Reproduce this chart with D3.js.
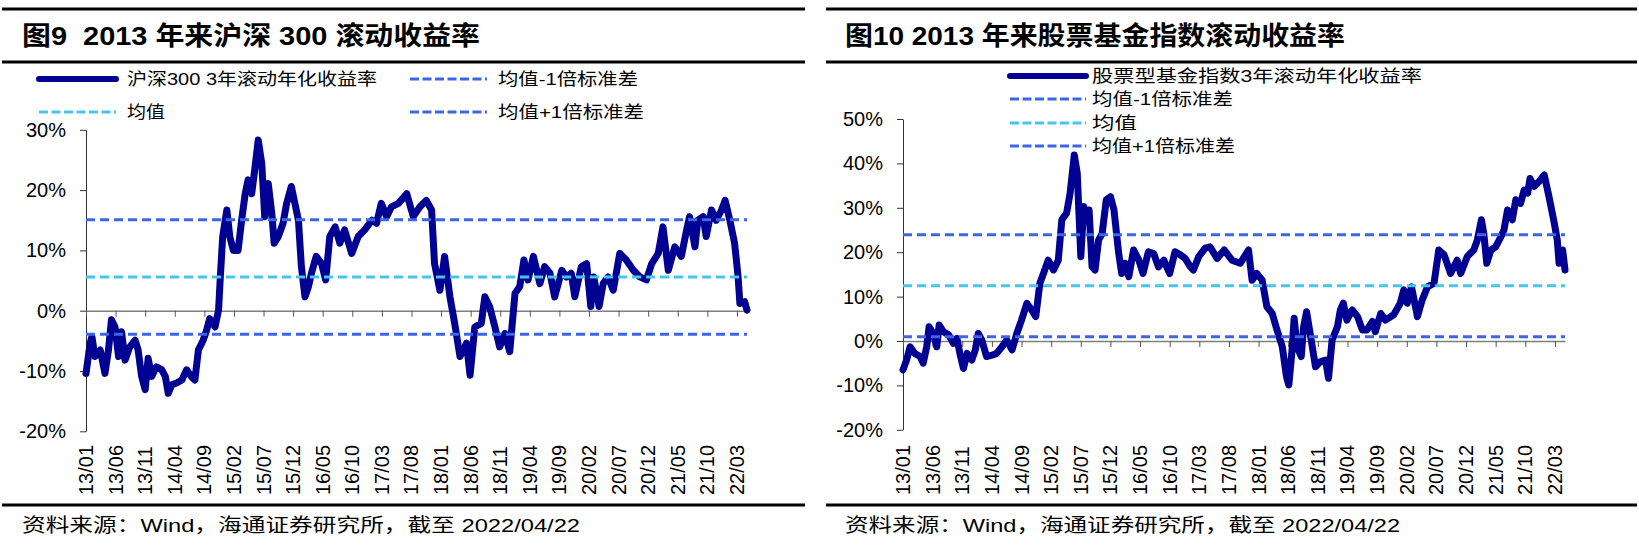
<!DOCTYPE html>
<html>
<head>
<meta charset="utf-8">
<script src="https://cdn.jsdelivr.net/npm/d3@7"></script>
<style>
html, body { margin: 0; padding: 0; background: #fff; }
svg { display: block; }
text { font-family: "Liberation Sans", "Noto Sans CJK SC", sans-serif; fill: #000; }
</style>
</head>
<body>
<svg id="chart" width="1639" height="555"></svg>
<script>
// x tick labels (yy/mm), every 5 months
const xTickLabels = ['13/01', '13/06', '13/11', '14/04', '14/09', '15/02', '15/07', '15/12',
    '16/05', '16/10', '17/03', '17/08', '18/01', '18/06', '18/11', '19/04', '19/09',
    '20/02', '20/07', '20/12', '21/05', '21/10', '22/03'];
// last observation 2022/04/22, in months since 2013/01
const lastMonth = 111.7;

// 沪深300 3年滚动年化收益率 (%), x = months since 2013/01
const csiMonth = [0, 0.7, 1.0, 1.5, 2.4, 3.2, 3.8, 4.3, 4.9, 5.5, 6.0, 6.6, 7.4, 8.3, 8.8, 9.4, 10.0,
    10.5, 11.1, 11.9, 12.8, 13.4, 13.9, 14.5, 15.3, 16.2, 17.0, 17.8, 18.4, 19.0, 19.8, 20.4, 20.9,
    21.8, 22.4, 22.7, 23.1, 23.8, 24.3, 24.9, 25.7, 26.3, 26.9, 27.4, 28.0, 28.5, 29.1, 29.7, 30.2,
    30.8, 31.4, 31.8, 32.5, 33.3, 33.9, 34.7, 35.3, 35.9, 36.4, 37.0, 37.6, 38.1, 38.9, 39.8, 40.5,
    41.2, 42.1, 42.9, 43.7, 44.9, 46.0, 47.1, 48.3, 49.1, 49.9, 50.8, 51.6, 52.8, 54.2, 55.3, 56.4,
    57.5, 58.4, 58.9, 59.8, 60.6, 61.5, 62.3, 63.2, 64.3, 64.9, 65.7, 66.8, 67.4, 68.2, 69.1, 69.9,
    70.8, 71.6, 72.5, 73.3, 74.0, 74.7, 75.6, 76.7, 77.5, 78.4, 79.2, 80.4, 81.2, 82.0, 82.6, 83.7,
    84.6, 85.3, 85.8, 86.7, 87.4, 88.2, 89.1, 90.2, 91.3, 92.5, 93.6, 94.7, 95.6, 96.7, 97.5, 98.4,
    99.5, 100.6, 101.5, 102.0, 102.9, 103.4, 104.3, 104.8, 105.7, 106.5, 107.4, 108.0, 108.8, 109.6,
    110.2, 110.5, 111.3, 111.7];
const csiValue = [-10.4, -5.4, -4.3, -7.6, -6.5, -10.4, -6.5, -1.5, -2.7, -7.6, -3.5, -8.2, -6.0, -4.9, -6.5, -10.9, -13.1,
    -7.9, -10.9, -9.3, -9.8, -10.9, -13.7, -12.3, -12.0, -11.5, -9.8, -10.9, -11.5, -6.5, -4.9, -3.2, -1.3,
    -2.7, 0.1, 5.6, 12.3, 16.7, 12.3, 10.0, 10.0, 15.0, 19.4, 21.7, 19.4, 23.3, 28.3, 24.4, 15.6,
    21.1, 16.1, 11.2, 12.3, 14.5, 17.8, 20.6, 17.8, 15.0, 7.3, 2.3, 4.0, 6.2, 9.0, 7.8, 5.1,
    12.3, 13.9, 11.2, 13.4, 9.5, 12.3, 13.4, 15.0, 14.5, 17.8, 15.6, 17.2, 17.8, 19.4, 15.6, 17.2,
    18.3, 16.7, 7.8, 3.4, 9.0, 2.3, -2.1, -7.6, -5.4, -10.7, -2.7, -2.1, 2.3, 0.7, -2.7, -6.0,
    -3.8, -6.8, 2.9, 4.0, 8.4, 5.1, 9.0, 4.5, 7.3, 6.2, 2.3, 6.7, 5.6, 6.2, 2.3, 7.3,
    7.8, 0.7, 5.6, 0.7, 4.5, 5.6, 3.4, 9.5, 8.4, 6.7, 5.6, 5.1, 7.8, 9.5, 13.9, 6.7,
    10.6, 9.0, 13.4, 15.6, 10.6, 15.0, 15.6, 12.3, 16.7, 15.0, 16.7, 18.3, 15.0, 11.2,
    5.6, 1.2, 1.5, 0.1];
const csiMean = 5.6;
const csiStd = 9.5;
const csiYTicks = [30, 20, 10, 0, -10, -20];

// 股票型基金指数3年滚动年化收益率 (%)
const fundMonth = [0, 0.6, 1.2, 2.0, 2.9, 3.4, 4.0, 4.4, 5.1, 5.7, 6.1, 6.8, 7.7, 8.5, 9.1, 9.6, 10.2,
    10.8, 11.6, 12.2, 12.7, 13.3, 14.1, 15.0, 15.8, 16.7, 17.5, 18.4, 19.2, 20.0, 20.9, 21.7, 22.4,
    23.1, 23.7, 24.5, 25.4, 26.2, 26.8, 27.6, 28.2, 28.9, 29.4, 30.0, 30.5, 31.0, 31.4, 31.9, 32.4,
    33.0, 33.6, 34.3, 35.0, 35.6, 36.4, 36.9, 37.5, 38.1, 38.9, 39.8, 40.5, 41.4, 42.3, 43.1, 44.0,
    45.0, 45.9, 46.8, 47.6, 48.5, 49.0, 49.9, 51.0, 51.8, 53.0, 54.2, 55.5, 56.9, 58.3, 58.9, 59.7,
    60.6, 61.4, 62.3, 63.1, 64.0, 64.7, 65.1, 65.6, 66.0, 66.5, 67.2, 67.6, 68.1, 68.7, 69.6, 70.4,
    71.3, 71.8, 72.4, 73.3, 73.8, 74.3, 74.9, 75.8, 76.7, 77.5, 78.3, 79.2, 79.7, 80.6, 81.4, 82.8,
    83.9, 84.5, 85.1, 85.8, 86.8, 87.6, 88.5, 89.6, 90.4, 91.3, 92.4, 93.5, 94.1, 95.2, 96.3, 96.9,
    97.6, 98.0, 98.5, 99.2, 100.0, 100.9, 101.4, 102.0, 102.8, 103.4, 104.2, 104.8, 105.4, 105.8,
    106.5, 107.3, 108.2, 109.0, 109.9, 110.4, 110.7, 111.3, 111.7];
const fundValue = [-6.5, -4.3, -1.3, -2.8, -3.5, -5.0, -1.3, 3.2, 1.7, -1.3, 3.6, 2.1, 1.4, -0.5, 0.6, -2.8, -6.2,
    -2.8, -4.3, -2.0, 1.7, 0.2, -3.5, -3.2, -2.8, -1.3, 0.2, -2.0, 1.7, 4.7, 8.5, 7.0, 5.5,
    13.0, 15.2, 18.2, 16.0, 18.2, 27.3, 28.8, 33.3, 41.9, 37.8, 19.0, 30.3, 27.3, 29.5, 16.7, 16.0,
    22.7, 24.2, 31.8, 32.5, 29.5, 19.7, 15.2, 17.5, 14.5, 20.5, 18.2, 15.2, 20.1, 19.7, 16.7, 18.2,
    15.2, 20.1, 19.4, 18.6, 16.7, 16.0, 19.0, 20.9, 21.2, 18.6, 20.5, 18.2, 17.5, 20.5, 13.7, 15.2,
    13.7, 7.7, 6.2, 2.5, -1.3, -8.0, -9.9, -2.8, 5.1, -1.3, -3.5, 3.2, 6.6, 1.7, -5.8, -4.7,
    -4.3, -8.4, 0.2, 3.2, 7.0, 8.5, 4.7, 7.0, 5.5, 2.5, 2.5, 4.4, 2.1, 6.2, 4.7, 5.9,
    8.5, 11.5, 8.5, 12.2, 5.5, 9.2, 12.2, 13.0, 20.5, 19.4, 15.2, 18.2, 15.2, 19.0, 20.5, 22.7,
    27.3, 24.2, 17.5, 20.5, 21.2, 23.5, 25.0, 29.5, 27.3, 31.8, 31.0, 34.0, 33.3, 36.6,
    34.8, 35.9, 37.4, 32.5, 26.5, 22.7, 17.5, 20.5, 16.0];
const fundMean = 12.45;
const fundStd = 11.5;
const fundYTicks = [50, 40, 30, 20, 10, 0, -10, -20];

const NAVY = '#000092';
const BLUE = '#3D66E4';
const CYAN = '#46C6EE';

// tick position in months from its yy/mm label
const tickMonths = xTickLabels.map(s => (+s.slice(0, 2) - 13) * 12 + (+s.slice(3) - 1));

const svg = d3.select('#chart');

function drawPanel(p) {
    const g = svg.append('g');

    // rules
    [9, 62, 505].forEach(yy => {
        g.append('line')
            .attr('x1', p.ruleX[0]).attr('x2', p.ruleX[1])
            .attr('y1', yy).attr('y2', yy)
            .attr('stroke', '#000').attr('stroke-width', 3);
    });

    g.append('text')
        .attr('x', p.titleX).attr('y', 45)
        .style('white-space', 'pre')
        .attr('font-size', 26).attr('font-weight', 'bold')
        .attr('textLength', p.titleLen).attr('lengthAdjust', 'spacingAndGlyphs')
        .text(p.title);

    const x = d3.scaleLinear().domain([0, lastMonth]).range([p.x0, p.x1]);
    const y = d3.scaleLinear().domain([p.yTicks[p.yTicks.length - 1], p.yTicks[0]]).range([p.yBot, p.yTop]);

    // y axis
    const yAxis = g.append('g')
        .attr('transform', `translate(${p.x0},0)`)
        .call(d3.axisLeft(y).tickValues(p.yTicks).tickSize(6).tickSizeOuter(0)
            .tickPadding(14).tickFormat(d => d + '%'));
    yAxis.select('.domain').attr('stroke', '#333');
    yAxis.selectAll('.tick line').attr('stroke', '#333');
    yAxis.selectAll('.tick text')
        .attr('font-size', 20)
        .attr('font-family', '"Liberation Sans", Arial, sans-serif')
        .attr('fill', '#000');

    // x axis sits on the 0% line, labels at the bottom
    const xAxis = g.append('g')
        .attr('transform', `translate(0,${y(0)})`)
        .call(d3.axisBottom(x).tickValues(tickMonths).tickSize(6).tickSizeOuter(0).tickFormat(''));
    xAxis.select('.domain').attr('stroke', '#808080').attr('stroke-width', 1.5);
    xAxis.selectAll('.tick line').attr('stroke', '#555');

    g.selectAll('.xlab')
        .data(xTickLabels)
        .enter()
        .append('text')
        .attr('class', 'xlab')
        .attr('transform', (d, i) => `translate(${x(tickMonths[i])},495) rotate(-90)`)
        .attr('dominant-baseline', 'central')
        .attr('text-anchor', 'start')
        .attr('font-size', 20)
        .attr('font-family', '"Liberation Sans", Arial, sans-serif')
        .text(d => d);

    // main series
    const pts = p.months.map((m, i) => ({ m, v: p.values[i] }));
    g.append('path')
        .datum(pts)
        .attr('fill', 'none')
        .attr('stroke', NAVY)
        .attr('stroke-width', 7)
        .attr('stroke-linejoin', 'round')
        .attr('stroke-linecap', 'round')
        .attr('d', d3.line().x(d => x(d.m)).y(d => y(d.v)));

    // mean and +-1 std
    const refs = [
        { v: p.mean - p.std, c: BLUE },
        { v: p.mean, c: CYAN },
        { v: p.mean + p.std, c: BLUE }
    ];
    refs.forEach(r => {
        g.append('path')
            .datum([0, lastMonth])
            .attr('fill', 'none')
            .attr('stroke', r.c)
            .attr('stroke-width', 3)
            .attr('stroke-dasharray', '9,5')
            .attr('d', d3.line().x(d => x(d)).y(() => y(r.v)));
    });

    // legend
    const styles = {
        main: { c: NAVY, w: 6, dash: null },
        lo: { c: BLUE, w: 3, dash: '9,3.5' },
        mean: { c: CYAN, w: 3, dash: '9,3.5' },
        hi: { c: BLUE, w: 3, dash: '9,3.5' }
    };
    p.legend.forEach(it => {
        const s = styles[it.kind];
        g.append('line')
            .attr('x1', it.x + 2).attr('x2', it.x + p.sampleLen - 2)
            .attr('y1', it.y).attr('y2', it.y)
            .attr('stroke', s.c).attr('stroke-width', s.w)
            .attr('stroke-linecap', it.kind === 'main' ? 'round' : 'butt')
            .attr('stroke-dasharray', s.dash);
        g.append('text')
            .attr('x', it.x + p.textOff).attr('y', it.y)
            .attr('dominant-baseline', 'central')
            .attr('font-size', 17)
            .attr('textLength', it.len).attr('lengthAdjust', 'spacingAndGlyphs')
            .text(it.label);
    });

    g.append('text')
        .attr('x', p.titleX).attr('y', 525)
        .attr('dominant-baseline', 'central')
        .attr('font-size', 19)
        .attr('textLength', p.sourceLen).attr('lengthAdjust', 'spacingAndGlyphs')
        .text('资料来源：Wind，海通证券研究所，截至 2022/04/22');
}

drawPanel({
    ruleX: [2, 805], title: '图9  2013 年来沪深 300 滚动收益率', titleX: 22, titleLen: 458,
    x0: 86, x1: 747, yTop: 129.8, yBot: 431.3, yTicks: csiYTicks,
    months: csiMonth, values: csiValue, mean: csiMean, std: csiStd,
    sampleLen: 81, textOff: 90, sourceLen: 558,
    legend: [
        { label: '沪深300 3年滚动年化收益率', kind: 'main', x: 37, y: 79, len: 250 },
        { label: '均值-1倍标准差', kind: 'lo', x: 408, y: 79, len: 140 },
        { label: '均值', kind: 'mean', x: 37, y: 112, len: 38 },
        { label: '均值+1倍标准差', kind: 'hi', x: 408, y: 112, len: 146 }
    ]
});

drawPanel({
    ruleX: [826, 1637], title: '图10 2013 年来股票基金指数滚动收益率', titleX: 845, titleLen: 500,
    x0: 903, x1: 1565, yTop: 119, yBot: 429.8, yTicks: fundYTicks,
    months: fundMonth, values: fundValue, mean: fundMean, std: fundStd,
    sampleLen: 80, textOff: 84, sourceLen: 555,
    legend: [
        { label: '股票型基金指数3年滚动年化收益率', kind: 'main', x: 1008, y: 76, len: 330 },
        { label: '均值-1倍标准差', kind: 'lo', x: 1008, y: 99, len: 141 },
        { label: '均值', kind: 'mean', x: 1008, y: 123, len: 45 },
        { label: '均值+1倍标准差', kind: 'hi', x: 1008, y: 146, len: 143 }
    ]
});
</script>
</body>
</html>
